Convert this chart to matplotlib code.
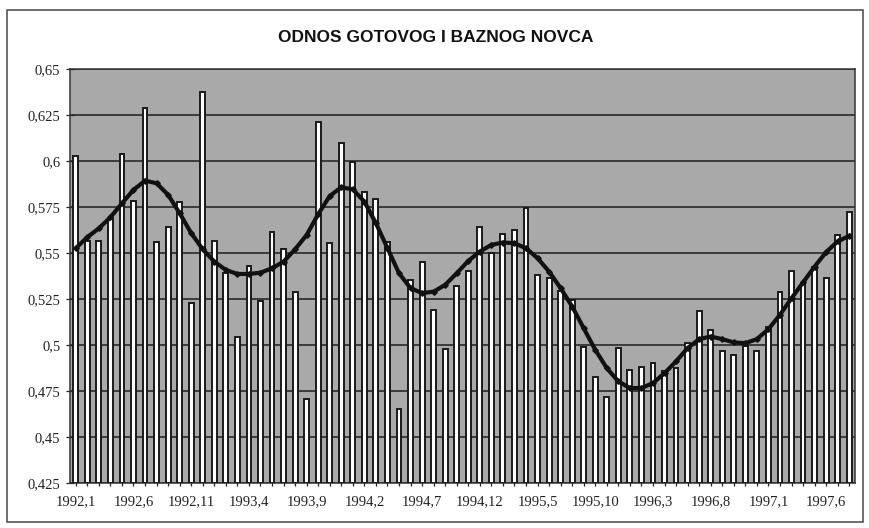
import matplotlib
matplotlib.use("Agg")
import matplotlib.pyplot as plt
from matplotlib.patches import Rectangle
import numpy as np

title = "ODNOS GOTOVOG I BAZNOG NOVCA"

years = [1992, 1993, 1994, 1995, 1996, 1997]
months = [f"{y},{m}" for y in years for m in range(1, 13)][:68]

ratio = [
    0.6027, 0.5565, 0.5567, 0.5687, 0.6036, 0.5784, 0.6286, 0.5558, 0.5640, 0.5779,
    0.5227, 0.6377, 0.5567, 0.5390, 0.5045, 0.5430, 0.5241, 0.5612, 0.5522, 0.5290,
    0.4707, 0.6214, 0.5553, 0.6100, 0.5993, 0.5833, 0.5793, 0.5562, 0.4652, 0.5353,
    0.5451, 0.5190, 0.4978, 0.5322, 0.5400, 0.5640, 0.5498, 0.5601, 0.5625, 0.5743,
    0.5379, 0.5366, 0.5295, 0.5245, 0.4991, 0.4828, 0.4719, 0.4986, 0.4864, 0.4882,
    0.4900, 0.4860, 0.4873, 0.5009, 0.5187, 0.5082, 0.4967, 0.4946, 0.4996, 0.4969,
    0.5100, 0.5290, 0.5402, 0.5335, 0.5426, 0.5362, 0.5598, 0.5725,
]

trend = [
    0.5526, 0.5586, 0.5634, 0.5694, 0.5770, 0.5843, 0.5893, 0.5879, 0.5816, 0.5716,
    0.5608, 0.5520, 0.5453, 0.5408, 0.5386, 0.5386, 0.5393, 0.5417, 0.5453, 0.5520,
    0.5598, 0.5711, 0.5810, 0.5857, 0.5846, 0.5779, 0.5662, 0.5526, 0.5390, 0.5309,
    0.5282, 0.5290, 0.5327, 0.5390, 0.5457, 0.5508, 0.5544, 0.5557, 0.5553, 0.5526,
    0.5472, 0.5399, 0.5309, 0.5209, 0.5091, 0.4974, 0.4874, 0.4802, 0.4766, 0.4766,
    0.4793, 0.4847, 0.4911, 0.4983, 0.5032, 0.5046, 0.5032, 0.5014, 0.5010, 0.5032,
    0.5086, 0.5164, 0.5254, 0.5340, 0.5426, 0.5505, 0.5563, 0.5593,
]

yticks = [0.425, 0.45, 0.475, 0.5, 0.525, 0.55, 0.575, 0.6, 0.625, 0.65]
ytick_labels = ["0,425", "0,45", "0,475", "0,5", "0,525", "0,55", "0,575", "0,6", "0,625", "0,65"]

fig = plt.figure(figsize=(8.7, 5.28), dpi=100)
fig.patch.set_facecolor("white")

# outer frame
fig.patches.append(Rectangle((7 / 870, 6 / 528), 856 / 870, 512 / 528,
                             transform=fig.transFigure, fill=False,
                             edgecolor="#555555", linewidth=1.2))

ax = fig.add_axes([70 / 870, 1 - 483 / 528, 785 / 870, (483 - 69) / 528])
ax.set_facecolor("#a9a9a9")

x = np.arange(len(ratio))
ymin = 0.425
ax.bar(x, np.array(ratio) - ymin, bottom=ymin, width=0.42, color="white",
       edgecolor="#1a1a1a", linewidth=1.4, zorder=3)
ax.plot(x, trend, color="#111111", linewidth=3.0, marker="D", markersize=2.8,
        zorder=4)

ax.set_xlim(-0.5, len(ratio) - 0.5)
ax.set_ylim(0.425, 0.65)
ax.set_yticks(yticks)
ax.set_yticklabels(ytick_labels)
ax.yaxis.grid(True, color="#333333", linewidth=1.3, zorder=1)
ax.set_axisbelow(True)

ax.set_xticks(x, minor=False)
labels = [months[i] if i % 5 == 0 else "" for i in x]
ax.set_xticklabels(labels)

ax.tick_params(axis="x", direction="inout", length=5, width=0.9, color="#222222",
               labelsize=10.5, pad=6)
ax.tick_params(axis="y", direction="inout", length=6, width=0.9, color="#222222",
               labelsize=10.5, pad=4)
for lab in ax.get_xticklabels() + ax.get_yticklabels():
    lab.set_fontfamily("Liberation Serif")
    lab.set_color("#222222")

for s in ax.spines.values():
    s.set_color("#333333")
    s.set_linewidth(1.1)

fig.text(436 / 870, 1 - 38 / 528, title, ha="center", va="center",
         fontsize=12.5, fontweight="bold", family="Liberation Sans", color="#111111")

fig.savefig("out.png", dpi=100)
